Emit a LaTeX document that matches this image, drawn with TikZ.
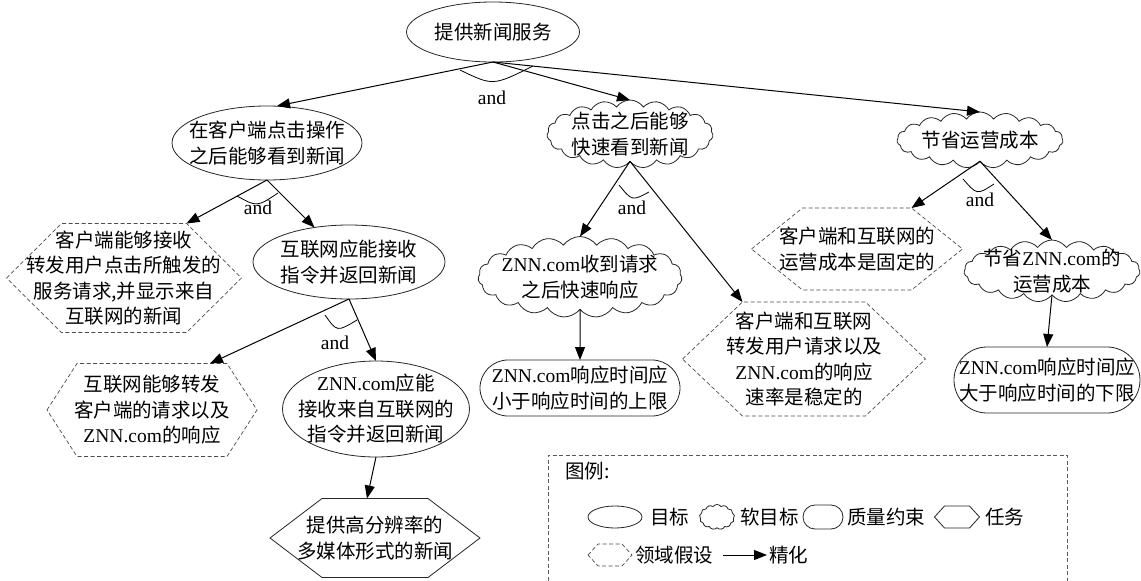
\documentclass[tikz,border=0pt]{standalone}
\usepackage{fontspec}
\setmainfont{Liberation Serif}
\newfontfamily\cjk{Noto Sans CJK SC}
\newfontfamily\lat{Liberation Serif}
\usetikzlibrary{shapes.geometric,shapes.symbols,shapes.misc,arrows.meta,calc}
\tikzset{
  every node/.style={inner sep=0pt, outer sep=0pt},
  outl/.style={draw=black!85, line width=0.8pt},
  goal/.style={ellipse, outl},
  soft/.style={cloud, cloud puffs=19, cloud puff arc=110, cloud ignores aspect, outl},
  qual/.style={rounded rectangle, outl},
  task/.style={draw=black!85, line width=0.8pt},
  assum/.style={draw=black!70, line width=0.7pt, dash pattern=on 4pt off 2.5pt},
  txt/.style={align=center, font=\cjk\fontsize{19.5pt}{25.5pt}\selectfont},
  andlbl/.style={font=\lat\fontsize{19.5pt}{23pt}\selectfont},
  refine/.style={-{Triangle[length=13pt,width=10pt]}, line width=1pt},
  andarc/.style={line width=0.8pt},
}
% hexagon: #1 style, #2 name, #3 x, #4 y, #5 width, #6 height, #7 chamfer
\newcommand\hexshape[7]{%
  \node[minimum width=#5pt, minimum height=#6pt] (#2) at (#3,#4) {};
  \draw[#1] (#2.west) -- ([xshift=#7pt]#2.north west) -- ([xshift=-#7pt]#2.north east)
    -- (#2.east) -- ([xshift=-#7pt]#2.south east) -- ([xshift=#7pt]#2.south west) -- cycle;}
\begin{document}
\begin{tikzpicture}[x=1pt, y=-1pt]
\useasboundingbox (0,0) rectangle (1141,581);
\fill[white] (0,0) rectangle (1141,581);

% ---- goals / softgoals / constraints
\node[goal, minimum width=173pt, minimum height=60pt] (T) at (493,32) {};
\node[txt] (T-t) at (T) {提供新闻服务};

\node[goal, minimum width=190pt, minimum height=74pt] (A) at (267,143) {};
\node[txt] (A-t) at (A) {在客户端点击操作\\之后能够看到新闻};

\node[goal, minimum width=192pt, minimum height=74pt] (B) at (349,262) {};
\node[txt] (B-t) at (B) {互联网应能接收\\指令并返回新闻};

\node[goal, minimum width=187pt, minimum height=96pt] (C) at (376,409) {};
\node[txt] (C-t) at (C) {{\lat ZNN.com}应能\\接收来自互联网的\\指令并返回新闻};

\node[soft, minimum width=166pt, minimum height=68pt] (F) at (630,134) {};
\node[txt] (F-t) at (F) {点击之后能够\\快速看到新闻};

\node[soft, minimum width=166pt, minimum height=56pt] (G) at (980,140) {};
\node[txt] (G-t) at (G) {节省运营成本};

\node[soft, minimum width=204pt, minimum height=81pt] (H) at (580,277) {};
\node[txt] (H-t) at (H) {{\lat ZNN.com}收到请求\\之后快速响应};

\node[soft, minimum width=176pt, minimum height=62pt] (L) at (1052,271) {};
\node[txt] (L-t) at (L) {节省{\lat ZNN.com}的\\运营成本};

\node[qual, minimum width=200pt, minimum height=56pt] (J) at (580,388) {};
\node[txt] (J-t) at (J) {{\lat ZNN.com}响应时间应\\小于响应时间的上限};

\node[qual, minimum width=186pt, minimum height=66pt] (M) at (1047,380) {};
\node[txt] (M-t) at (M) {{\lat ZNN.com}响应时间应\\大于响应时间的下限};

% ---- hexagons (tasks / domain assumptions)
\hexshape{assum}{D1}{124}{278}{235}{109}{55}
\node[txt] (D1-t) at (D1) {客户端能够接收\\转发用户点击所触发的\\服务请求,并显示来自\\互联网的新闻};

\hexshape{assum}{D2}{152}{410}{210}{93}{30}
\node[txt] (D2-t) at (D2) {互联网能够转发\\客户端的请求以及\\{\lat ZNN.com}的响应};

\hexshape{task}{E}{375}{538}{210}{79}{52}
\node[txt] (E-t) at (E) {提供高分辨率的\\多媒体形式的新闻};

\hexshape{assum}{I}{804}{359}{243}{114}{60}
\node[txt] (I-t) at (I) {客户端和互联网\\转发用户请求以及\\{\lat ZNN.com}的响应\\速率是稳定的};

\hexshape{assum}{K}{857}{249}{211}{82}{51}
\node[txt] (K-t) at (K) {客户端和互联网的\\运营成本是固定的};

% ---- refinement connectors
\draw[refine] (T.south) -- ($(A.north)+(10,0)$);
\draw[refine] (T.south) -- (F.north);
\draw[refine] (T.south) -- (G.north);
\draw[refine] (A.south) -- ([xshift=-55pt]D1.north east);
\draw[refine] (A.south) -- (B);
\draw[refine] (B.south) -- ($(D2.north east)+(-47,0)$);
\draw[refine] (B.south) -- (C.north);
\draw[refine] (C.south) -- ($(E.north)+(-8,0)$);
\draw[refine] (F.south) -- (H.north);
\draw[refine] (F.south) -- ([xshift=60pt]I.north west);
\draw[refine] (H.south) -- (J.north);
\draw[refine] (G.south) -- ([xshift=-51pt]K.north east);
\draw[refine] (G.south) -- (L.north);
\draw[refine] (L.south) -- (M.north);

% ---- and-decompositions
\draw[andarc] (460,70) .. controls (493,86) .. (533,66);
\node[andlbl] (and1) at (492,98) {and};
\draw[andarc] (237,196) .. controls (257,207) .. (278,193);
\node[andlbl] (and2) at (258,208) {and};
\draw[andarc] (325,315) .. controls (337,332) .. (357,320);
\node[andlbl] (and3) at (335,343) {and};
\draw[andarc] (619,185) .. controls (632,201) .. (649,192);
\node[andlbl] (and4) at (632,208) {and};
\draw[andarc] (963,179) .. controls (977,195) .. (994,184);
\node[andlbl] (and5) at (980,200) {and};

% ---- legend
\draw[draw=black!65, line width=0.7pt, dash pattern=on 4pt off 2.5pt]
  (548,600) -- (548,455) -- (1067,455) -- (1067,600);
\node[txt, anchor=west] (lgtitle) at (565,471) {图例:};
\node[goal, minimum width=54pt, minimum height=22pt] (lg1) at (615,517) {};
\node[txt, anchor=west] (lg1-t) at (650,517) {目标};
\node[soft, cloud puffs=13, minimum width=35pt, minimum height=25pt] (lg2) at (717,517) {};
\node[txt, anchor=west] (lg2-t) at (740,517) {软目标};
\node[qual, minimum width=40pt, minimum height=24pt] (lg3) at (823,517) {};
\node[txt, anchor=west] (lg3-t) at (847,517) {质量约束};
\hexshape{task}{lg4}{957}{517}{45}{22}{10}
\node[txt, anchor=west] (lg4-t) at (985,517) {任务};
\hexshape{assum}{lg5}{610}{555}{44}{22}{10}
\node[txt, anchor=west] (lg5-t) at (635,555) {领域假设};
\coordinate (la) at (723,555);
\coordinate (lb) at (767,555);
\draw[refine] (la) -- (lb);
\node[txt, anchor=west] (lg6-t) at (769,555) {精化};
\end{tikzpicture}
\end{document}
